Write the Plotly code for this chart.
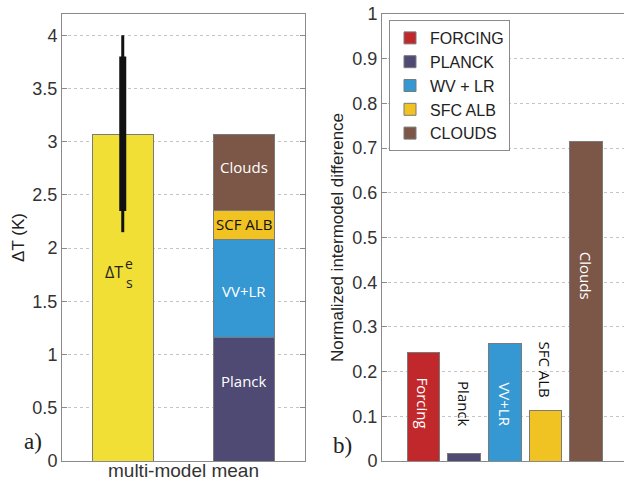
import plotly.graph_objects as go

# ---------------- data ----------------
# panel a
a_category = ["multi-model mean"]
dTs_value = [3.07]
err_thin = [2.15, 4.00]     # full model range
err_thick = [2.35, 3.80]    # inner range
stack_names = ["Planck", "VV+LR", "SCF ALB", "Clouds"]
stack_values = [1.158, 0.927, 0.265, 0.72]
a_ticks = [0, 0.5, 1, 1.5, 2, 2.5, 3, 3.5, 4]

# panel b
b_names = ["FORCING", "PLANCK", "WV + LR", "SFC ALB", "CLOUDS"]
b_labels = ["Forcing", "Planck", "VV+LR", "SFC ALB", "Clouds"]
b_values = [0.242, 0.017, 0.262, 0.112, 0.715]
b_ticks = [0, 0.1, 0.2, 0.3, 0.4, 0.5, 0.6, 0.7, 0.8, 0.9, 1]

# ---------------- styles ----------------
C_RED = "#C1282B"
C_PLANCK = "#4F4A73"
C_BLUE = "#3598D3"
C_ALB = "#F0C323"
C_CLOUD = "#7C5646"
C_DTS = "#F1DF35"
stack_colors = [C_PLANCK, C_BLUE, C_ALB, C_CLOUD]
b_colors = [C_RED, C_PLANCK, C_BLUE, C_ALB, C_CLOUD]
OUTLINE = dict(color="#7a7a7a", width=1)

SANS = "Liberation Sans, Arial, sans-serif"
TICKFONT = dict(family=SANS, size=18, color="#333333")
LABFONT = "Open Sans, Noto Sans, sans-serif"

fig = go.Figure()

# panel a: yellow total bar at position 1, stacked feedbacks at position 2
fig.add_trace(go.Bar(x=[1], y=dTs_value, width=0.5, marker=dict(color=C_DTS, line=OUTLINE),
                     showlegend=False, xaxis="x", yaxis="y", hoverinfo="y"))
for name, val, col in zip(stack_names, stack_values, stack_colors):
    fig.add_trace(go.Bar(x=[2], y=[val], width=0.5, name=name,
                         marker=dict(color=col, line=OUTLINE),
                         showlegend=False, xaxis="x", yaxis="y"))
fig.add_trace(go.Scatter(x=[1, 1], y=err_thin, mode="lines", line=dict(color="#111111", width=3),
                         showlegend=False, xaxis="x", yaxis="y", hoverinfo="skip"))
fig.add_trace(go.Scatter(x=[1, 1], y=err_thick, mode="lines", line=dict(color="#111111", width=7),
                         showlegend=False, xaxis="x", yaxis="y", hoverinfo="skip"))

# panel b
for i, (name, val, col) in enumerate(zip(b_names, b_values, b_colors)):
    fig.add_trace(go.Bar(x=[i + 1], y=[val], width=0.81, name=name,
                         marker=dict(color=col, line=OUTLINE),
                         xaxis="x2", yaxis="y2", showlegend=True))

ann = []
# panel a labels
a_lab = [("Clouds", 2, 2.76, "white"), ("SCF ALB", 2, 2.23, "#111111"),
         ("VV+LR", 2, 1.60, "white"), ("Planck", 2, 0.75, "white")]
for t, x, y, c in a_lab:
    ann.append(dict(text=t, x=x, y=y, xref="x", yref="y", showarrow=False,
                    font=dict(family=LABFONT, size=15, color=c)))
ann.append(dict(text="ΔT", x=0.93, y=1.78, xref="x", yref="y", showarrow=False,
                font=dict(family=LABFONT, size=16, color="#222222")))
ann.append(dict(text="e", x=1.055, y=1.86, xref="x", yref="y", showarrow=False,
                font=dict(family=LABFONT, size=14, color="#222222")))
ann.append(dict(text="s", x=1.055, y=1.68, xref="x", yref="y", showarrow=False,
                font=dict(family=LABFONT, size=14, color="#222222")))

# panel b labels (rotated)
b_lab_y = [0.13, 0.127, 0.127, 0.206, 0.414]
b_lab_c = ["white", "#111111", "white", "#111111", "white"]
for i, (t, y, c) in enumerate(zip(b_labels, b_lab_y, b_lab_c)):
    ann.append(dict(text=t, x=i + 1, y=y, xref="x2", yref="y2", showarrow=False, textangle=90,
                    font=dict(family=LABFONT, size=15, color=c)))

# panel letters
ann.append(dict(text="a)", x=0.0345, y=0.054, xref="paper", yref="paper", showarrow=False,
                font=dict(family="Liberation Serif, Times New Roman, serif", size=23, color="#222222")))
ann.append(dict(text="b)", x=0.549, y=0.046, xref="paper", yref="paper", showarrow=False,
                font=dict(family="Liberation Serif, Times New Roman, serif", size=23, color="#222222")))

AXCOL = "#8a8a8a"
GRID = dict(showgrid=True, gridcolor="#c4c4c4", griddash="dot", gridwidth=1)

fig.update_layout(
    width=624, height=482,
    margin=dict(l=0, r=0, t=0, b=0, autoexpand=False),
    paper_bgcolor="white", plot_bgcolor="white",
    barmode="stack",
    annotations=ann,
    xaxis=dict(domain=[62 / 624, 305 / 624], range=[0.5, 2.5], tickvals=[1.5], ticktext=a_category,
               tickfont=dict(family=SANS, size=19, color="#333333"), ticklabelstandoff=-8,
               showline=True, linecolor=AXCOL, linewidth=1, mirror=True, ticks="", showgrid=False,
               zeroline=False, automargin=False),
    yaxis=dict(domain=[1 - 461 / 482, 1 - 14 / 482], range=[0, 4.2], tickvals=a_ticks,
               ticktext=[f"{v:g}" for v in a_ticks], tickfont=TICKFONT,
               showline=True, linecolor=AXCOL, linewidth=1, mirror="ticks", ticks="inside",
               ticklen=5, tickcolor=AXCOL, zeroline=False, automargin=False, **GRID,
               title=dict(text="ΔT (K)", standoff=3,
                          font=dict(family=SANS, size=17, color="#222222"))),
    xaxis2=dict(domain=[382 / 624, 1], range=[-0.02, 5.93], showticklabels=False, ticks="",
                showline=True, linecolor=AXCOL, linewidth=1, mirror=True, showgrid=False,
                zeroline=False, anchor="y2", automargin=False),
    yaxis2=dict(domain=[1 - 461 / 482, 1 - 14 / 482], range=[0, 1], tickvals=b_ticks,
                ticktext=[f"{v:g}" for v in b_ticks], tickfont=TICKFONT, anchor="x2",
                showline=True, linecolor=AXCOL, linewidth=1, ticks="inside", ticklen=5,
                tickcolor=AXCOL, zeroline=False, automargin=False, **GRID,
                title=dict(text="Normalized intermodel difference", standoff=4,
                           font=dict(family=SANS, size=17, color="#222222"))),
    legend=dict(x=389 / 624, y=1 - 20 / 482, xanchor="left", yanchor="top",
                traceorder="normal",
                bgcolor="white", bordercolor="#8a8a8a", borderwidth=1,
                font=dict(family=SANS, size=16, color="#222222"),
                tracegroupgap=0, itemwidth=30),
)

fig.write_html("out.html", config={"displayModeBar": False},
               post_script="document.body.style.margin='0';document.body.style.padding='0';")
